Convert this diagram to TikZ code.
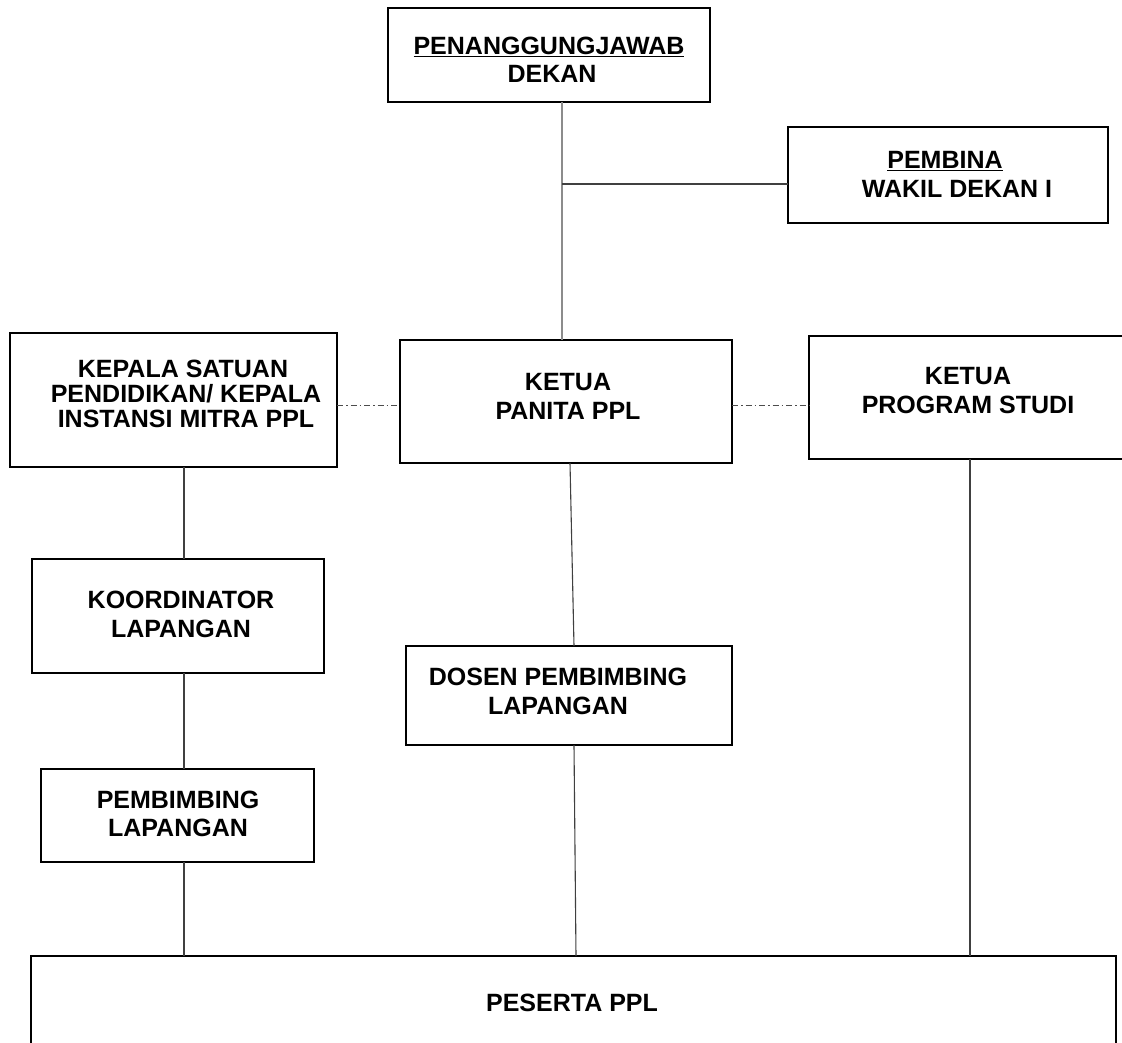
\documentclass[tikz,border=0pt]{standalone}
\usepackage{fontspec}
\setmainfont{Liberation Sans}
\begin{document}
\begin{tikzpicture}[x=1pt,y=-1pt,
  box/.style={draw=black,line width=2.2pt,rectangle,inner sep=0pt,outer sep=0pt},
  lbl/.style={anchor=base,inner sep=0pt,font=\fontsize{25}{28}\selectfont\bfseries},
  conn/.style={draw=black!75,line width=1.1pt},
  connl/.style={draw=black!45,line width=1.6pt},
  dd/.style={draw=black!70,line width=1pt,dash pattern=on 6pt off 3pt on 1.5pt off 3pt}]
\useasboundingbox (0,0) rectangle (1122,1043);
\clip (0,0) rectangle (1122,1043);
\fill[white] (0,0) rectangle (1122,1043);
% boxes
\node[box,minimum width=322pt,minimum height=94pt] (dekan) at (549,55) {};
\node[box,minimum width=320pt,minimum height=96pt] (pembina) at (948,175) {};
\node[box,minimum width=327pt,minimum height=134pt] (kepala) at (173.5,400) {};
\node[box,minimum width=332pt,minimum height=123pt] (ketua) at (566,401.5) {};
\node[box,minimum width=331pt,minimum height=123pt] (prodi) at (974.5,397.5) {};
\node[box,minimum width=292pt,minimum height=114pt] (koord) at (178,616) {};
\node[box,minimum width=273pt,minimum height=93pt] (pemb) at (177.5,815.5) {};
\node[box,minimum width=326pt,minimum height=99pt] (dosen) at (569,695.5) {};
\node[box,minimum width=1085pt,minimum height=114pt] (peserta) at (573.5,1013) {};
% texts
\node[lbl] (t1) at (549,55) {\underline{PENANGGUNGJAWAB}};
\node[lbl] (t2) at (552,83) {DEKAN};
\node[lbl] (t3) at (945,169) {\underline{PEMBINA}};
\node[lbl] (t4) at (957,198) {WAKIL DEKAN I};
\node[lbl] (t5) at (183,377) {KEPALA SATUAN};
\node[lbl] (t6) at (186,402) {PENDIDIKAN/ KEPALA};
\node[lbl] (t7) at (186,427) {INSTANSI MITRA PPL};
\node[lbl] (t8) at (568,390) {KETUA};
\node[lbl] (t9) at (568,419) {PANITA PPL};
\node[lbl] (t10) at (968,384) {KETUA};
\node[lbl] (t11) at (968,413) {PROGRAM STUDI};
\node[lbl] (t12) at (181,608) {KOORDINATOR};
\node[lbl] (t13) at (181,637) {LAPANGAN};
\node[lbl] (t14) at (178,808) {PEMBIMBING};
\node[lbl] (t15) at (178,836) {LAPANGAN};
\node[lbl] (t16) at (558,685) {DOSEN PEMBIMBING};
\node[lbl] (t17) at (558,714) {LAPANGAN};
\node[lbl] (t18) at (572,1011) {PESERTA PPL};
% coordinates
\coordinate (j) at (562,184);
\coordinate (dl) at (370,405);
\coordinate (cl) at (184,0);
\coordinate (ka) at (570,0);
\coordinate (kb) at (574,0);
\coordinate (kc) at (576,0);
\coordinate (pr) at (970,0);
% connectors
\draw[connl] (dekan.south -| j) -- (ketua.north -| j);
\draw[conn] (j) -- (j -| pembina.west);
\draw[dd] (kepala.east |- dl) -- (ketua.west |- dl);
\draw[dd] (ketua.east |- dl) -- (prodi.west |- dl);
\draw[conn] (kepala.south -| cl) -- (koord.north -| cl);
\draw[conn] (koord.south -| cl) -- (pemb.north -| cl);
\draw[conn] (pemb.south -| cl) -- (peserta.north -| cl);
\draw[conn] (ketua.south -| ka) -- (dosen.north -| kb);
\draw[conn] (dosen.south -| kb) -- (peserta.north -| kc);
\draw[conn] (prodi.south -| pr) -- (peserta.north -| pr);
\end{tikzpicture}
\end{document}
